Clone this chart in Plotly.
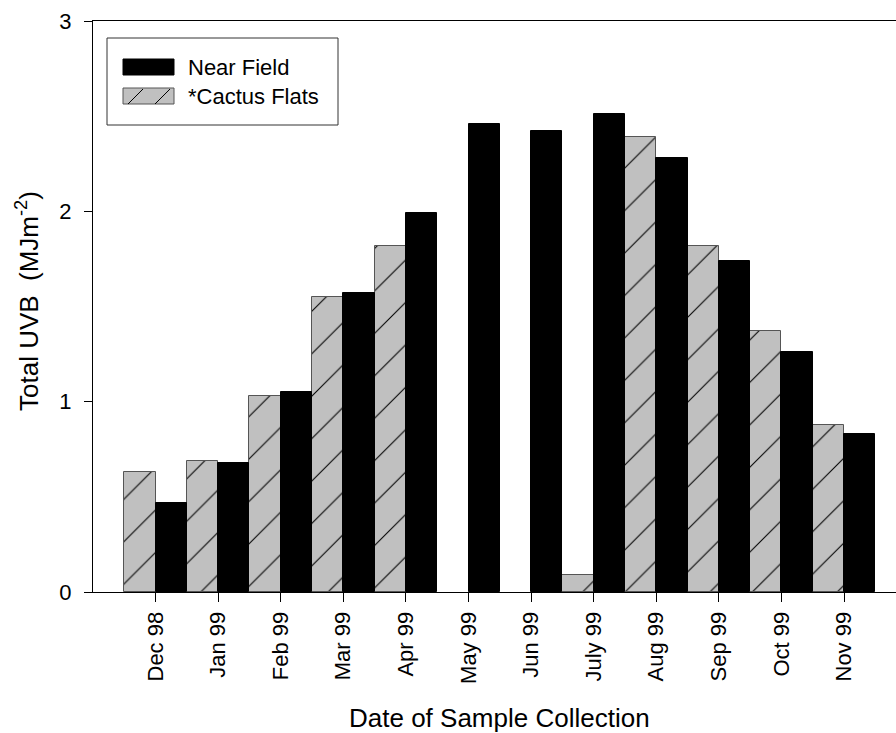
import plotly.graph_objects as go

# Monthly total UVB at the two sampling sites
months = ["Dec 98", "Jan 99", "Feb 99", "Mar 99", "Apr 99", "May 99",
          "Jun 99", "July 99", "Aug 99", "Sep 99", "Oct 99", "Nov 99"]
near_field = [0.47, 0.68, 1.05, 1.57, 1.99, 2.46, 2.42, 2.51, 2.28, 1.74, 1.26, 0.83]
cactus_flats = [0.63, 0.69, 1.03, 1.55, 1.82, None, None, 0.09, 2.39, 1.82, 1.37, 0.88]

FONT = "Arial, Liberation Sans, sans-serif"
GREY = "#c0c0c0"

# Plot-area geometry in pixels (used to place the legend and titles)
W, H = 896, 733
L, R, T, B = 93, 0, 21, 141
PW, PH = W - L - R, H - T - B


def px_x(p):
    return (p - L) / PW


def px_y(p):
    return (H - B - p) / PH


fig = go.Figure()

fig.add_trace(go.Bar(
    x=months, y=cactus_flats, name="*Cactus Flats", showlegend=False,
    marker=dict(
        color=GREY,
        line=dict(color="#555555", width=1),
        pattern=dict(shape="/", bgcolor=GREY, fgcolor="black",
                     size=30, solidity=0.035, fillmode="replace"),
    ),
))
fig.add_trace(go.Bar(
    x=months, y=near_field, name="Near Field", showlegend=False,
    marker=dict(color="black", line=dict(color="black", width=1)),
))

fig.update_layout(
    width=W, height=H,
    margin=dict(l=L, r=R, t=T, b=B, pad=0),
    paper_bgcolor="white", plot_bgcolor="white",
    font=dict(family=FONT, size=22, color="black"),
    barmode="group", bargap=0, bargroupgap=0,
)

fig.update_xaxes(
    type="category", range=[-1, 11.83],
    showline=True, linecolor="black", linewidth=1, mirror=True,
    ticks="outside", ticklen=9, tickcolor="black", tickwidth=1,
    tickangle=-90, ticklabelstandoff=1,
    tickfont=dict(family=FONT, size=22, color="black"),
    showgrid=False, zeroline=False,
)
fig.update_yaxes(
    range=[0, 3], dtick=1, tick0=0,
    showline=True, linecolor="black", linewidth=1, mirror=False,
    ticks="outside", ticklen=8, tickcolor="black", tickwidth=1,
    ticklabelstandoff=8,
    tickfont=dict(family=FONT, size=22, color="black"),
    showgrid=False, zeroline=False,
)

# Legend: framed box with wide swatches
shapes = [
    dict(type="rect", xref="paper", yref="paper",
         x0=px_x(107), x1=px_x(338), y0=px_y(125), y1=px_y(38),
         fillcolor="white", line=dict(color="#333333", width=1), layer="above"),
    dict(type="rect", xref="paper", yref="paper",
         x0=px_x(123), x1=px_x(174), y0=px_y(75), y1=px_y(59),
         fillcolor="black", line=dict(color="black", width=1), layer="above"),
    dict(type="rect", xref="paper", yref="paper",
         x0=px_x(123), x1=px_x(174), y0=px_y(104), y1=px_y(88),
         fillcolor=GREY, line=dict(color="#555555", width=1), layer="above"),
]
for bx in (128, 155):
    shapes.append(dict(type="line", xref="paper", yref="paper",
                       x0=px_x(bx), x1=px_x(bx + 15), y0=px_y(104), y1=px_y(89),
                       line=dict(color="black", width=1), layer="above"))
fig.update_layout(shapes=shapes)

for label, cy in (("Near Field", 67), ("*Cactus Flats", 96)):
    fig.add_annotation(
        text=label, xref="paper", yref="paper",
        x=px_x(186), y=px_y(cy), xanchor="left", yanchor="middle",
        showarrow=False, font=dict(family=FONT, size=22, color="black"),
    )

# Axis titles
fig.add_annotation(
    text="Date of Sample Collection", xref="paper", yref="paper",
    x=px_x(499), y=px_y(718), xanchor="center", yanchor="middle",
    showarrow=False, font=dict(family=FONT, size=26, color="black"),
)
fig.add_annotation(
    text="Total UVB  (MJm<sup>-2</sup>)", xref="paper", yref="paper",
    x=px_x(28), y=px_y(301), xanchor="center", yanchor="middle",
    textangle=-90, showarrow=False, font=dict(family=FONT, size=26, color="black"),
)

fig.write_html("out.html")
